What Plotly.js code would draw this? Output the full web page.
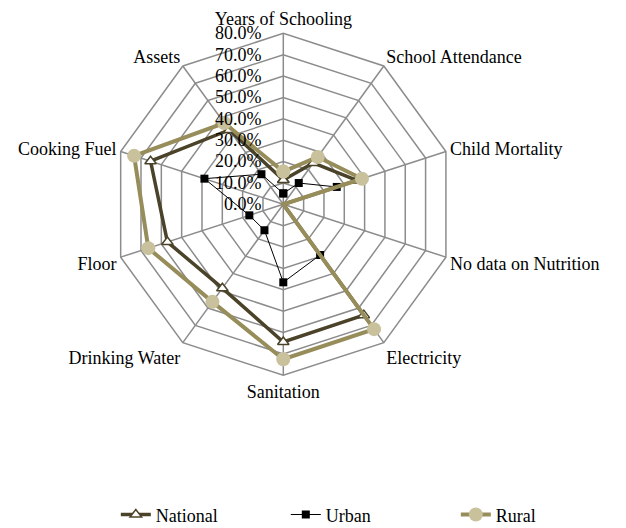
<!DOCTYPE html>
<html>
<head>
<meta charset="utf-8">
<script src="https://cdn.plot.ly/plotly-3.0.1.min.js"></script>
<style>html,body{margin:0;padding:0;background:#fff;}#chart{width:626px;height:528px;}</style>
</head>
<body>
<div id="chart"></div>
<script>
const categories = ["Years of Schooling", "School Attendance", "Child Mortality", "No data on Nutrition",
  "Electricity", "Sanitation", "Drinking Water", "Floor", "Cooking Fuel", "Assets"];
const national = [11.4, 23.9, 36.2, 0, 64.1, 64.4, 48.5, 57.0, 65.3, 43.0];
const urban    = [5.1, 12.3, 26.3, 0, 29.3, 36.5, 15.0, 16.7, 38.8, 17.4];
const rural    = [15.3, 27.4, 38.7, 0, 72.2, 72.5, 56.4, 66.4, 73.4, 47.0];
const radialTicks = [0, 10, 20, 30, 40, 50, 60, 70, 80];

function closed(arr) { return arr.concat([arr[0]]); }

const font = "Liberation Serif, Times New Roman, serif";

const traces = [
  {
    type: "scatterpolar", name: "National", mode: "lines+markers",
    r: closed(national), theta: closed(categories),
    line: {color: "#4b4329", width: 3.5},
    marker: {symbol: "triangle-up", size: 10, color: "#ffffff", line: {color: "#4b4329", width: 1.5}}
  },
  {
    type: "scatterpolar", name: "Urban", mode: "lines+markers",
    r: closed(urban), theta: closed(categories),
    line: {color: "#000000", width: 1},
    marker: {symbol: "square", size: 8, color: "#000000"}
  },
  {
    type: "scatterpolar", name: "Rural", mode: "lines+markers",
    r: closed(rural), theta: closed(categories),
    line: {color: "#978d5a", width: 4},
    marker: {symbol: "circle", size: 14, color: "#c9c19c", line: {width: 0}}
  }
];

const layout = {
  width: 626, height: 528,
  margin: {l: 0, r: 0, t: 0, b: 0, autoexpand: false},
  paper_bgcolor: "#ffffff",
  font: {family: font, size: 18, color: "#000000"},
  showlegend: true,
  legend: {
    orientation: "h", x: 0.185, xanchor: "left", y: 0.025, yanchor: "middle",
    font: {family: font, size: 18, color: "#000"}, entrywidth: 125, entrywidthmode: "pixels"
  },
  polar: {
    domain: {x: [0.1794, 0.7257], y: [0.2892, 0.9369]},
    gridshape: "linear",
    bgcolor: "#ffffff",
    radialaxis: {
      range: [0, 80], tickvals: radialTicks,
      ticktext: radialTicks.map(v => v.toFixed(1) + "%"),
      angle: 90, tickangle: 90, side: "counterclockwise",
      showline: false, ticks: "outside", ticklen: 15, tickcolor: "rgba(0,0,0,0)",
      gridcolor: "#8c8c8c", gridwidth: 1.5,
      tickfont: {family: font, size: 18, color: "#000"}
    },
    angularaxis: {
      type: "category", direction: "clockwise", rotation: 90,
      linecolor: "#8c8c8c", linewidth: 1.5, gridcolor: "#8c8c8c", gridwidth: 1.5,
      ticks: "", tickfont: {family: font, size: 18, color: "#000"}
    }
  }
};

Plotly.newPlot("chart", traces, layout, {displayModeBar: false, staticPlot: true});
</script>
</body>
</html>
